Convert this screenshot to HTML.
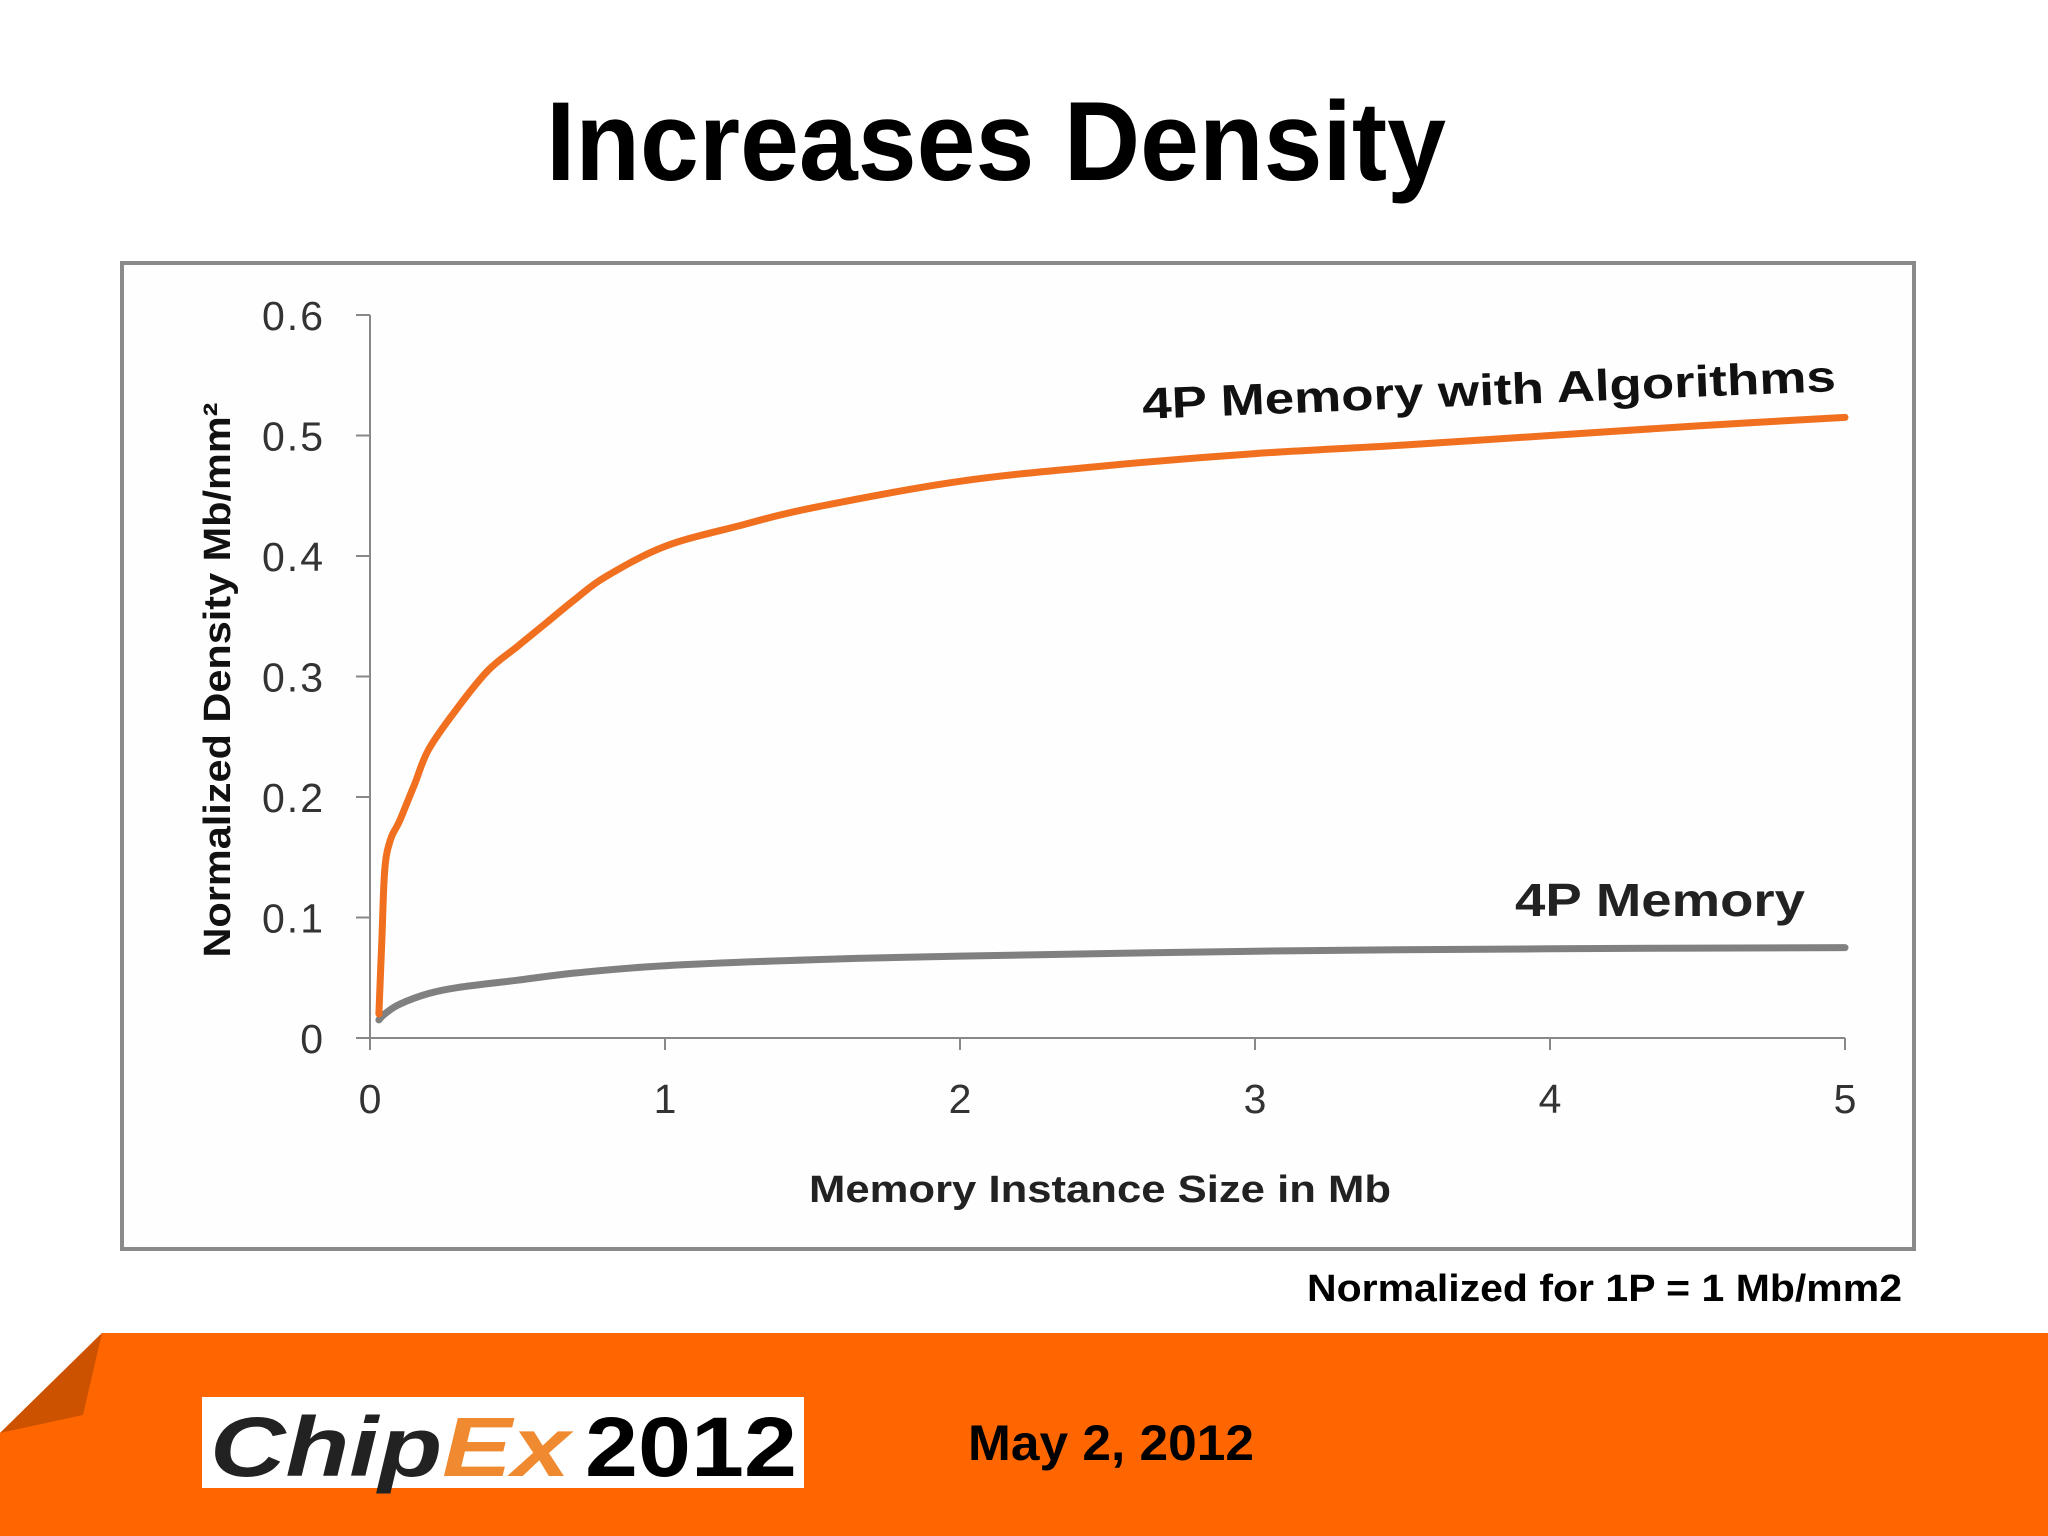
<!DOCTYPE html>
<html><head><meta charset="utf-8"><style>
body{margin:0;width:2048px;height:1536px;background:#fff;overflow:hidden;font-family:"Liberation Sans",sans-serif}
svg{position:absolute;left:0;top:0}
</style></head><body>
<svg width="2048" height="1536" viewBox="0 0 2048 1536">
<text x="996" y="180" text-anchor="middle" font-size="112" font-weight="bold" fill="#000" textLength="900" lengthAdjust="spacingAndGlyphs">Increases Density</text>
<rect x="122" y="263" width="1792" height="986" fill="#fefefe" stroke="#8a8a8a" stroke-width="4"/>
<g id="axes"></g>
<g id="series"></g>
<text x="1489" y="405" text-anchor="middle" font-size="44" font-weight="bold" fill="#111" transform="rotate(-2.3 1489 392)" textLength="694" lengthAdjust="spacingAndGlyphs">4P Memory with Algorithms</text>
<text x="1660" y="916" text-anchor="middle" font-size="46" font-weight="bold" fill="#222" textLength="290" lengthAdjust="spacingAndGlyphs">4P Memory</text>
<text x="1100" y="1202" text-anchor="middle" font-size="38" font-weight="bold" fill="#222" textLength="582" lengthAdjust="spacingAndGlyphs">Memory Instance Size in Mb</text>
<text x="0" y="0" text-anchor="middle" font-size="38" font-weight="bold" fill="#111" transform="translate(230 680) rotate(-90)" textLength="555" lengthAdjust="spacingAndGlyphs">Normalized Density Mb/mm²</text>
<text x="1902" y="1301" text-anchor="end" font-size="38" font-weight="bold" fill="#000" textLength="595" lengthAdjust="spacingAndGlyphs">Normalized for 1P = 1 Mb/mm2</text>
<g>
<polygon points="102,1333 2048,1333 2048,1536 0,1536 0,1433" fill="#ff6600"/>
<polygon points="102,1333 83,1415 0,1433" fill="#cc5200"/>
<rect x="202" y="1397" width="602" height="91" fill="#fff"/>
<text x="210" y="1476" font-size="84" font-weight="bold" font-style="italic" fill="#222" textLength="360" lengthAdjust="spacingAndGlyphs">Chip<tspan fill="#f08a30">Ex</tspan></text>
<text x="585" y="1476" font-size="84" font-weight="bold" fill="#000" textLength="212" lengthAdjust="spacingAndGlyphs">2012</text>
<text x="968" y="1460" font-size="50" font-weight="bold" fill="#000" textLength="286" lengthAdjust="spacingAndGlyphs">May 2, 2012</text>
</g>
</svg>
<script>
const xTicks=[0,1,2,3,4,5];
const yTicks=[0,0.1,0.2,0.3,0.4,0.5,0.6];
const yTickLabels=["0","0.1","0.2","0.3","0.4","0.5","0.6"];
const algoX=[0.03,0.04,0.05,0.07,0.1,0.15,0.2,0.3,0.4,0.5,0.6,0.7,0.8,1,1.25,1.5,2,2.5,3,3.5,4,4.5,5];
const algoY=[0.02,0.08,0.14,0.165,0.18,0.21,0.24,0.275,0.305,0.325,0.345,0.365,0.383,0.408,0.425,0.44,0.462,0.475,0.485,0.492,0.5,0.508,0.515];
const memX=[0.03,0.05,0.1,0.2,0.3,0.5,0.7,1,1.5,2,3,4,5];
const memY=[0.015,0.02,0.028,0.037,0.042,0.048,0.054,0.06,0.065,0.068,0.072,0.074,0.075];
const X0=370,X1=1845,Y0=1038,Y1=315;
const sx=v=>X0+(X1-X0)*v/5, sy=v=>Y0-(Y0-Y1)*v/0.6;
const NS="http://www.w3.org/2000/svg";
const axes=document.getElementById('axes'), ser=document.getElementById('series');
function mk(t,a,p){const e=document.createElementNS(NS,t);for(const k in a)e.setAttribute(k,a[k]);p.appendChild(e);return e;}
const ya=mk('line',{x1:X0,y1:Y1,x2:X0,y2:Y0,stroke:'#888','stroke-width':2},axes);


const xa=mk('line',{x1:X0,y1:Y0,x2:X1,y2:Y0,stroke:'#888','stroke-width':2},axes);


yTicks.forEach((v,i)=>{
 mk('line',{x1:X0-14,y1:sy(v),x2:X0,y2:sy(v),stroke:'#888','stroke-width':2},axes);
 const t=mk('text',{x:X0-45,y:sy(v)+15,'text-anchor':'end','font-size':41,fill:'#333','letter-spacing':2},axes);
 t.textContent=yTickLabels[i];
 
 
});
xTicks.forEach(v=>{
 mk('line',{x1:sx(v),y1:Y0,x2:sx(v),y2:Y0+12,stroke:'#888','stroke-width':2},axes);
 const t=mk('text',{x:sx(v),y:Y0+75,'text-anchor':'middle','font-size':41,fill:'#333'},axes);
 t.textContent=String(v);
 
 
});
function line(xs,ys){
 const P=xs.map((x,i)=>[sx(x),sy(ys[i])]);
 let d='M'+P[0][0].toFixed(1)+' '+P[0][1].toFixed(1);
 for(let i=0;i<P.length-1;i++){
  const p0=P[Math.max(i-1,0)],p1=P[i],p2=P[i+1],p3=P[Math.min(i+2,P.length-1)];
  const c1=[p1[0]+(p2[0]-p0[0])/6,p1[1]+(p2[1]-p0[1])/6];
  const c2=[p2[0]-(p3[0]-p1[0])/6,p2[1]-(p3[1]-p1[1])/6];
  d+=' C'+c1.map(n=>n.toFixed(1)).join(' ')+' '+c2.map(n=>n.toFixed(1)).join(' ')+' '+p2[0].toFixed(1)+' '+p2[1].toFixed(1);
 }
 return d;
}
const p1=mk('path',{d:line(memX,memY),fill:'none',stroke:'#808080','stroke-width':7,'stroke-linejoin':'round','stroke-linecap':'round'},ser);


const p2=mk('path',{d:line(algoX,algoY),fill:'none',stroke:'#f07020','stroke-width':7,'stroke-linejoin':'round','stroke-linecap':'round'},ser);


</script>
</body></html>
